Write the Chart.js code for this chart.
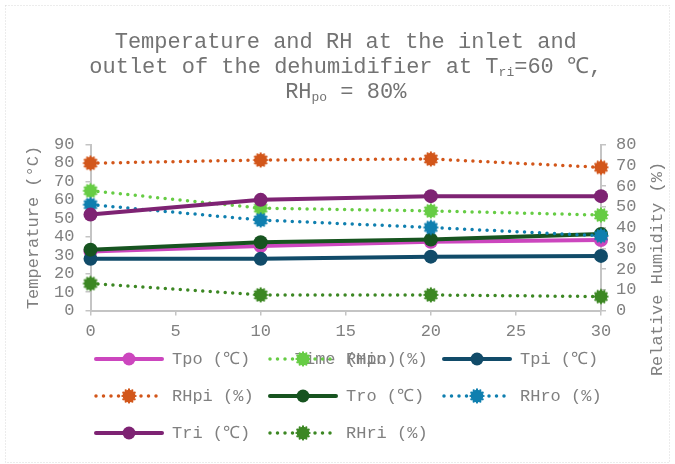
<!DOCTYPE html>
<html>
<head>
<meta charset="utf-8">
<script src="https://cdn.jsdelivr.net/npm/chart.js@4"></script>
<style>
    html, body { margin: 0; padding: 0; background: #fff; }
    #wrap { width: 675px; height: 464px; }
</style>
</head>
<body>
<div id="wrap"><canvas id="chart" width="675" height="464"></canvas></div>
<script>
// Time points (min)
const times = [0, 10, 20, 30];

// Temperatures (left axis, °C)
const tpo = [32, 35, 37.3, 38.2];
const tpi = [28, 28, 29.2, 29.6];
const tro = [33, 37, 38.5, 41.5];
const tri = [52, 60, 62, 62];

// Relative humidity (right axis, %)
const rhpo = [57.7, 49.3, 48, 46];
const rhpi = [71, 72.5, 73, 69];
const rhro = [51, 43.6, 40, 36];
const rhri = [13, 7.5, 7.5, 6.7];

const xTicks = [0, 5, 10, 15, 20, 25, 30];

const FONT = "'Liberation Mono', 'Courier New', monospace";
const TEXT = '#808080';
const AXIS = '#c4c4c4';

// circle marker with a ragged (dotted) edge, like the RH markers
function dottedMarker(color) {
    const c = document.createElement('canvas');
    c.width = 20;
    c.height = 20;
    const g = c.getContext('2d');
    g.fillStyle = color;
    g.beginPath();
    g.arc(10, 10, 6.3, 0, Math.PI * 2);
    g.fill();
    for (let a = 0; a < 12; a++) {
        const ang = a * Math.PI / 6;
        g.beginPath();
        g.arc(10 + Math.cos(ang) * 6.6, 10 + Math.sin(ang) * 6.6, 1.1, 0, Math.PI * 2);
        g.fill();
    }
    return c;
}

function toPoints(values) {
    return values.map((v, i) => ({ x: times[i], y: v }));
}

function tempSet(label, values, color) {
    return {
        label: label,
        data: toPoints(values),
        yAxisID: 'y',
        borderColor: color,
        backgroundColor: color,
        borderWidth: 4,
        pointRadius: 7,
        pointHoverRadius: 7,
        pointBorderWidth: 0,
        pointBackgroundColor: color,
        dotted: false
    };
}

function rhSet(label, values, color) {
    const marker = dottedMarker(color);
    return {
        label: label,
        data: toPoints(values),
        yAxisID: 'y1',
        borderColor: color,
        backgroundColor: color,
        borderWidth: 3.5,
        borderDash: [0, 7.5],
        borderCapStyle: 'round',
        pointStyle: marker,
        pointRadius: 8,
        dotted: true,
        marker: marker
    };
}

const datasets = [
    tempSet('Tpo (℃)', tpo, '#CC46BE'),
    rhSet('RHpo (%)', rhpo, '#66CC44'),
    tempSet('Tpi (℃)', tpi, '#114B69'),
    rhSet('RHpi (%)', rhpi, '#D2561A'),
    tempSet('Tro (℃)', tro, '#175420'),
    rhSet('RHro (%)', rhro, '#0F7FAF'),
    tempSet('Tri (℃)', tri, '#7E2373'),
    rhSet('RHri (%)', rhri, '#3C8723')
];
// later series sit on top, as in the original
datasets.forEach((d, i) => {
    d.order = datasets.length - i;
    d.clip = false;
    d.tension = 0;
});

// frame, title with subscripts, right axis title and the legend
const decor = {
    id: 'decor',
    beforeDraw(chart) {
        const ctx = chart.ctx;
        ctx.save();
        ctx.fillStyle = '#fff';
        ctx.fillRect(0, 0, chart.width, chart.height);
        ctx.strokeStyle = '#d9d9d9';
        ctx.lineWidth = 1;
        ctx.setLineDash([1, 2]);
        ctx.strokeRect(5.5, 5.5, chart.width - 11, chart.height - 7);
        ctx.restore();
    },
    afterDraw(chart) {
        const ctx = chart.ctx;
        ctx.save();
        ctx.fillStyle = '#737373';
        ctx.textBaseline = 'middle';

        // title lines, pieces marked sub are subscripts
        const lines = [
            [{ t: 'Temperature and RH at the inlet and' }],
            [{ t: 'outlet of the dehumidifier at T' }, { t: 'ri', sub: true }, { t: '=60 ℃,' }],
            [{ t: 'RH' }, { t: 'po', sub: true }, { t: ' = 80%' }]
        ];
        const cx = (chart.chartArea.left + chart.chartArea.right) / 2;
        lines.forEach((parts, li) => {
            const y = 42 + li * 25;
            let total = 0;
            parts.forEach(p => {
                ctx.font = (p.sub ? '13px ' : '22px ') + FONT;
                p.w = ctx.measureText(p.t).width;
                total += p.w;
            });
            let x = cx - total / 2;
            ctx.textAlign = 'left';
            parts.forEach(p => {
                ctx.font = (p.sub ? '13px ' : '22px ') + FONT;
                ctx.fillText(p.t, x, p.sub ? y + 6 : y);
                x += p.w;
            });
        });

        // right axis title, reading upwards
        ctx.fillStyle = TEXT;
        ctx.font = '17px ' + FONT;
        ctx.textAlign = 'center';
        ctx.save();
        ctx.translate(657, 269);
        ctx.rotate(-Math.PI / 2);
        ctx.fillText('Relative Humidity (%)', 0, 0);
        ctx.restore();

        // legend, three columns
        chart.data.datasets.forEach((d, i) => {
            const x0 = 94 + (i % 3) * 174;
            const y = 359 + Math.floor(i / 3) * 37;
            ctx.save();
            ctx.strokeStyle = d.borderColor;
            ctx.lineWidth = d.borderWidth;
            ctx.lineCap = 'round';
            if (d.dotted) ctx.setLineDash([0, 7.5]);
            ctx.beginPath();
            ctx.moveTo(x0 + 2, y);
            ctx.lineTo(x0 + 68, y);
            ctx.stroke();
            ctx.restore();
            if (d.dotted) {
                ctx.drawImage(d.marker, x0 + 35 - 10, y - 10);
            } else {
                ctx.fillStyle = d.borderColor;
                ctx.beginPath();
                ctx.arc(x0 + 35, y, 6.5, 0, Math.PI * 2);
                ctx.fill();
            }
            ctx.fillStyle = TEXT;
            ctx.font = '17px ' + FONT;
            ctx.textAlign = 'left';
            ctx.fillText(d.label, x0 + 78, y);
        });
        ctx.restore();
    }
};

const tickFont = { family: FONT, size: 17 };

new Chart(document.getElementById('chart').getContext('2d'), {
    type: 'line',
    data: { datasets: datasets },
    options: {
        responsive: false,
        animation: false,
        devicePixelRatio: 1,
        layout: { padding: { top: 144.5, left: 0, right: 0, bottom: 0 } },
        plugins: {
            legend: { display: false },
            title: { display: false },
            tooltip: { enabled: false }
        },
        scales: {
            x: {
                type: 'linear',
                min: 0,
                max: 30,
                afterBuildTicks: axis => { axis.ticks = xTicks.map(v => ({ value: v })); },
                afterFit: axis => { axis.height = 153.5; },
                ticks: { color: TEXT, font: tickFont, padding: 6, maxRotation: 0, autoSkip: false },
                grid: { drawOnChartArea: false, drawTicks: true, tickLength: 5, color: AXIS, lineWidth: 1.5 },
                border: { color: AXIS, width: 2 },
                title: { display: true, text: 'Time (min)', color: TEXT, font: tickFont, padding: { top: 0, bottom: 94 } }
            },
            y: {
                position: 'left',
                min: 0,
                max: 90,
                afterFit: axis => { axis.width = 90.5; },
                ticks: { stepSize: 10, color: TEXT, font: tickFont, padding: 11, autoSkip: false },
                grid: { drawOnChartArea: false, drawTicks: true, tickLength: 5, color: AXIS, lineWidth: 1.5 },
                border: { color: AXIS, width: 2 },
                title: { display: true, text: 'Temperature (°C)', color: TEXT, font: tickFont, padding: { top: 23, bottom: 0 } }
            },
            y1: {
                position: 'right',
                min: 0,
                max: 80,
                afterFit: axis => { axis.width = 74; },
                ticks: { stepSize: 10, color: TEXT, font: tickFont, padding: 10, autoSkip: false },
                grid: { drawOnChartArea: false, drawTicks: true, tickLength: 5, color: AXIS, lineWidth: 1.5 },
                border: { color: AXIS, width: 2 }
            }
        }
    },
    plugins: [decor]
});
</script>
</body>
</html>
